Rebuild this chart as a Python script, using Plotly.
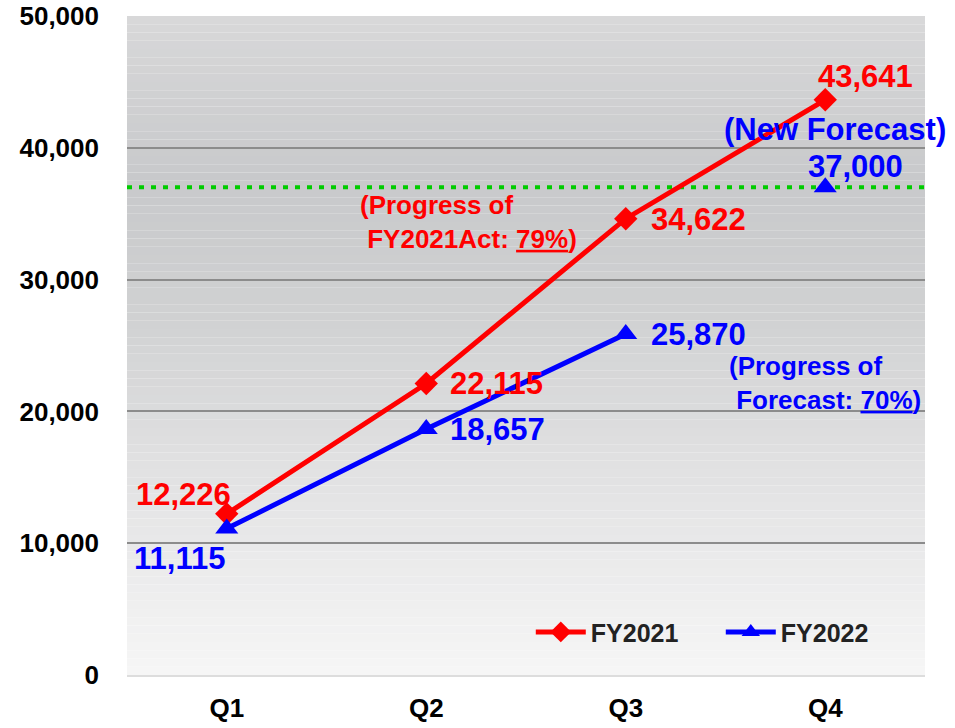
import plotly.graph_objects as go

# data
quarters = ["Q1", "Q2", "Q3", "Q4"]
fy2021 = [12226, 22115, 34622, 43641]
fy2022 = [11115, 18657, 25870]
forecast_q = "Q4"
forecast_value = 37000
progress_fy2021 = 79
progress_forecast = 70
y_ticks = [0, 10000, 20000, 30000, 40000, 50000]

RED = "#FF0000"
BLUE = "#0000FF"
GREEN = "#00CC00"
FONT = "Liberation Sans, Arial, sans-serif"

# background gradient, top to bottom
GRADIENT_STOPS = [
    (0.00, (216, 216, 217)),
    (0.25, (200, 201, 203)),
    (0.45, (208, 209, 210)),
    (0.70, (226, 226, 227)),
    (1.00, (246, 246, 246)),
]


def gradient_color(t):
    for (t0, c0), (t1, c1) in zip(GRADIENT_STOPS, GRADIENT_STOPS[1:]):
        if t0 <= t <= t1:
            f = (t - t0) / (t1 - t0)
            rgb = [round(a + (b - a) * f) for a, b in zip(c0, c1)]
            return "rgb({},{},{})".format(*rgb)
    return "rgb({},{},{})".format(*GRADIENT_STOPS[-1][1])


fig = go.Figure()

fig.add_trace(
    go.Scatter(
        x=quarters,
        y=fy2021,
        mode="lines+markers",
        name="FY2021",
        line=dict(color=RED, width=5),
        marker=dict(symbol="diamond", size=18, color=RED),
    )
)
fig.add_trace(
    go.Scatter(
        x=quarters[: len(fy2022)],
        y=fy2022,
        mode="lines+markers",
        name="FY2022",
        line=dict(color=BLUE, width=5),
        marker=dict(symbol="triangle-up", size=20, color=BLUE),
    )
)
fig.add_trace(
    go.Scatter(
        x=[forecast_q],
        y=[forecast_value],
        mode="markers",
        showlegend=False,
        marker=dict(symbol="triangle-up", size=20, color=BLUE),
    )
)

shapes = []
n_bands = 80
for i in range(n_bands):
    shapes.append(
        dict(
            type="rect", xref="paper", yref="paper",
            x0=0, x1=1, y0=1 - (i + 1) / n_bands, y1=1 - i / n_bands,
            fillcolor=gradient_color((i + 0.5) / n_bands),
            line=dict(width=0), layer="below",
        )
    )
shapes.append(
    dict(
        type="line", xref="paper", yref="y",
        x0=0, x1=1, y0=forecast_value, y1=forecast_value,
        line=dict(color=GREEN, width=4, dash="5px,7px"), layer="below",
    )
)

# value labels: (x, y, color, xshift, yshift, xanchor)
label_specs = [
    (quarters[0], fy2021[0], RED, -43, 19, "center"),
    (quarters[1], fy2021[1], RED, 22, 0, "left"),
    (quarters[2], fy2021[2], RED, 23, -1, "left"),
    (quarters[3], fy2021[3], RED, 40, 23, "center"),
    (quarters[0], fy2022[0], BLUE, -47, -30, "center"),
    (quarters[1], fy2022[1], BLUE, 22, 0, "left"),
    (quarters[2], fy2022[2], BLUE, 23, 0, "left"),
    (forecast_q, forecast_value, BLUE, 30, 21, "center"),
]
annotations = []
for x, y, color, dx, dy, anchor in label_specs:
    annotations.append(
        dict(
            x=x, y=y, text=f"<b>{y:,}</b>", showarrow=False,
            xanchor=anchor, yanchor="middle", xshift=dx, yshift=dy,
            font=dict(family=FONT, size=31, color=color),
        )
    )
annotations.append(
    dict(
        x=forecast_q, y=forecast_value, text="<b>(New Forecast)</b>",
        showarrow=False, xanchor="center", yanchor="middle",
        xshift=10, yshift=58,
        font=dict(family=FONT, size=31, color=BLUE),
    )
)
annotations.append(
    dict(
        x=0.2895, y=0.687, xref="paper", yref="paper",
        text=f"<b>(Progress of<br>&nbsp;FY2021Act: <u>{progress_fy2021}%</u>)</b>",
        showarrow=False, xanchor="left", yanchor="middle", align="left",
        font=dict(family=FONT, size=26, color=RED),
    )
)
annotations.append(
    dict(
        x=0.752, y=0.443, xref="paper", yref="paper",
        text=f"<b>(Progress of<br>&nbsp;Forecast: <u>{progress_forecast}%</u>)</b>",
        showarrow=False, xanchor="left", yanchor="middle", align="left",
        font=dict(family=FONT, size=26, color=BLUE),
    )
)

fig.update_layout(
    width=955,
    height=728,
    margin=dict(l=127, r=30, t=16, b=53),
    paper_bgcolor="white",
    plot_bgcolor="white",
    shapes=shapes,
    annotations=annotations,
    showlegend=True,
    legend=dict(
        orientation="h",
        x=0.506, y=0.065, xanchor="left", yanchor="middle",
        bgcolor="rgba(0,0,0,0)",
        font=dict(family=FONT, size=25, color="#222222", weight="bold"),
        entrywidth=125,
        itemwidth=50,
    ),
)

fig.update_xaxes(
    range=[-0.5, 3.5],
    automargin=False,
    showgrid=False,
    showline=True,
    linecolor="#DDDDDD",
    linewidth=2,
    ticks="",
    ticklabelstandoff=9,
    ticklabeloverflow="allow",
    tickfont=dict(family=FONT, size=26, color="black", weight="bold"),
)
fig.update_yaxes(
    range=[0, 50000],
    automargin=False,
    tickvals=y_ticks,
    tickformat=",d",
    showgrid=True,
    gridcolor="#8C8C8C",
    gridwidth=2,
    zeroline=True,
    zerolinecolor="#DDDDDD",
    zerolinewidth=2,
    ticks="",
    ticklabelstandoff=27,
    ticklabeloverflow="allow",
    tickfont=dict(family=FONT, size=26, color="black", weight="bold"),
)

# drop the default 8px body margin so the figure fills the window exactly
fig.write_html(
    "out.html",
    config={"displayModeBar": False},
    post_script="document.body.style.margin = '0';",
)
